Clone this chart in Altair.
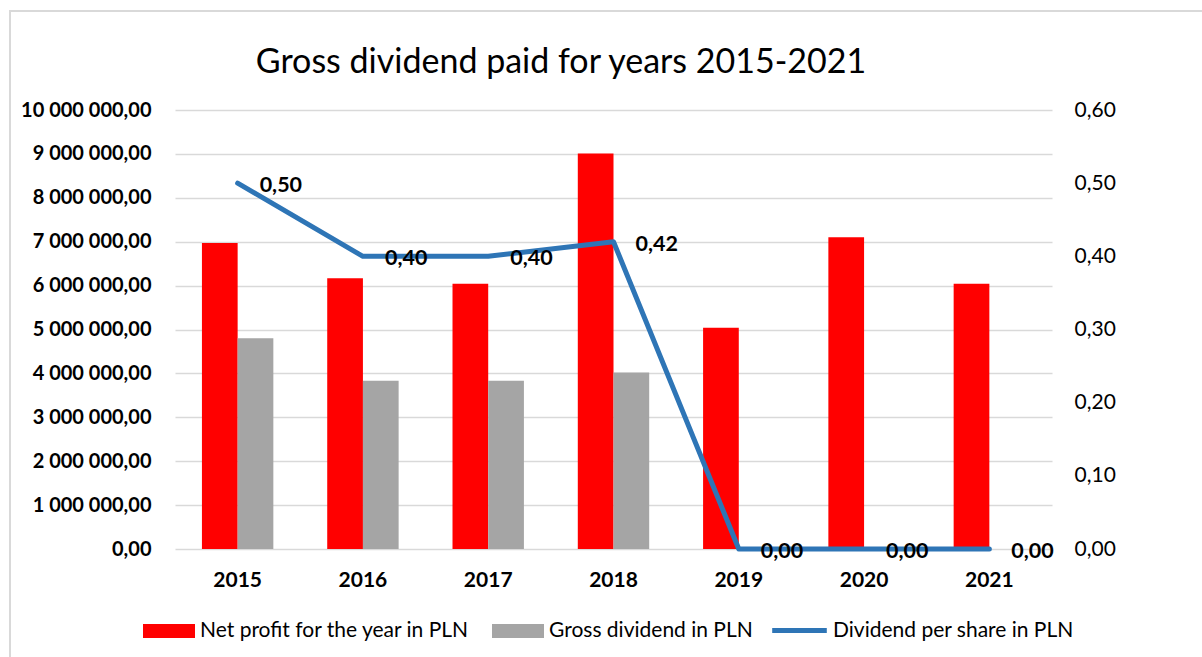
import altair as alt
import pandas as pd

years = ["2015", "2016", "2017", "2018", "2019", "2020", "2021"]
net_profit = [6970000, 6170000, 6040000, 9010000, 5040000, 7100000, 6040000]
gross_dividend = [4800000, 3830000, 3830000, 4020000, 0, 0, 0]
dividend_per_share = [0.50, 0.40, 0.40, 0.42, 0.00, 0.00, 0.00]

TITLE = "Gross dividend paid for years 2015-2021"
S_NET = "Net profit for the year in PLN"
S_GROSS = "Gross dividend in PLN"
S_DPS = "Dividend per share in PLN"
bar_series = [S_NET, S_GROSS]
bar_colors = ["#ff0000", "#a5a5a5"]
line_color = "#2e75b6"

left_ticks = [i * 1000000 for i in range(11)]
right_ticks = [0.0, 0.1, 0.2, 0.3, 0.4, 0.5, 0.6]

bars_df = pd.DataFrame(
    [{"year": y, "series": S_NET, "value": v} for y, v in zip(years, net_profit)]
    + [{"year": y, "series": S_GROSS, "value": v} for y, v in zip(years, gross_dividend)]
)
line_df = pd.DataFrame({"year": years, "series": S_DPS, "dps": dividend_per_share})

FONT = "Lato"
W, H = 877, 439

x_enc = alt.X(
    "year:N",
    sort=years,
    title=None,
    scale=alt.Scale(paddingInner=0.43, paddingOuter=0.215),
    axis=alt.Axis(
        labelFont=FONT, labelFontSize=21, labelFontWeight="bold", labelColor="black",
        labelPadding=20, ticks=False, domain=False, labelAngle=0,
    ),
)

one = pd.DataFrame({"t": [TITLE]})

border = alt.Chart(one).mark_rect(
    fill="transparent", stroke="#d9d9d9", strokeWidth=2
).encode(
    x=alt.value(-165), x2=alt.value(W + 200), y=alt.value(-99), y2=alt.value(H + 200)
)

title_text = alt.Chart(one).mark_text(
    font=FONT, fontSize=34, fontWeight="normal", color="black",
    align="center", baseline="alphabetic",
).encode(
    text="t:N", x=alt.value(386), y=alt.value(-37)
)

bars = alt.Chart(bars_df).mark_bar().encode(
    x=x_enc,
    xOffset=alt.XOffset("series:N", sort=bar_series, scale=alt.Scale(paddingInner=0, paddingOuter=0)),
    y=alt.Y(
        "value:Q",
        title=None,
        scale=alt.Scale(domain=[0, 10000000], nice=False),
        axis=alt.Axis(
            values=left_ticks, format=",.2f", labelFont=FONT, labelFontSize=20,
            labelFontWeight="bold", labelColor="black", labelPadding=24,
            ticks=False, domain=False, grid=True, gridColor="#d9d9d9", gridWidth=1.5,
        ),
    ),
    color=alt.Color(
        "series:N",
        scale=alt.Scale(domain=bar_series, range=bar_colors),
        legend=alt.Legend(
            orient="none", legendX=-32, legendY=495, direction="horizontal", title=None,
            symbolSize=2704, symbolType="M-1,-0.27H1V0.27H-1Z", symbolStrokeWidth=0,
            labelFont=FONT, labelFontSize=21, labelColor="black", labelLimit=400,
            columnPadding=22, labelOffset=5,
        ),
    ),
)

line = alt.Chart(line_df).mark_line(strokeWidth=5, strokeCap="round", strokeJoin="round").encode(
    x=alt.X("year:N", sort=years),
    y=alt.Y(
        "dps:Q",
        title=None,
        scale=alt.Scale(domain=[0, 0.6], nice=False),
        axis=alt.Axis(
            orient="right", values=right_ticks, format=".2f", labelFont=FONT,
            labelFontSize=21, labelColor="black", labelPadding=22,
            ticks=False, domain=False, grid=False,
        ),
    ),
    stroke=alt.Stroke(
        "series:N",
        scale=alt.Scale(domain=[S_DPS], range=[line_color]),
        legend=alt.Legend(
            orient="none", legendX=596, legendY=492, direction="horizontal", title=None,
            symbolSize=2704, symbolType="M-1.05,0H1.05", symbolStrokeWidth=5,
            labelFont=FONT, labelFontSize=21, labelColor="black", labelLimit=400,
            labelOffset=5,
        ),
    ),
)

labels = alt.Chart(line_df).mark_text(
    align="left", baseline="middle", dx=22, dy=3, font=FONT, fontSize=21.5,
    fontWeight="bold", color="black",
).encode(
    x=alt.X("year:N", sort=years),
    y=alt.Y("dps:Q"),
    text=alt.Text("dps:Q", format=".2f"),
)

chart = alt.layer(
    border, title_text, bars, alt.layer(line, labels)
).resolve_scale(
    y="independent"
).properties(
    width=W,
    height=H,
    autosize=alt.AutoSizeParams(type="none"),
    padding={"left": 175, "top": 110, "right": 150, "bottom": 108},
).configure(
    locale=alt.Locale(
        number=alt.NumberLocale(decimal=",", thousands=" ", grouping=[3], currency=["", ""])
    )
).configure_view(stroke=None)

chart.save("out.html", embed_options={"renderer": "svg", "actions": False})
